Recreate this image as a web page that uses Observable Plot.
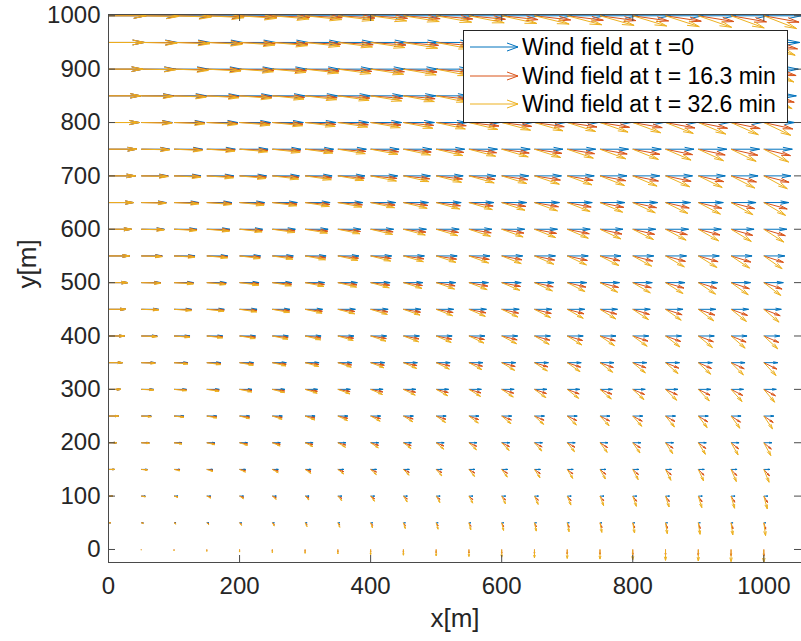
<!DOCTYPE html>
<html>
<head>
<meta charset="utf-8">
<script src="https://cdn.jsdelivr.net/npm/d3@7"></script>
<script src="https://cdn.jsdelivr.net/npm/@observablehq/plot@0.6"></script>
<style>
  body { margin: 0; background: #fff; }
  #chart { position: relative; width: 801px; height: 641px; font-family: "Liberation Sans", Arial, Helvetica, sans-serif; }
  #legend { position: absolute; left: 463px; top: 30px; width: 325px; height: 93px; box-sizing: border-box;
            border: 1px solid #262626; background: #fff; }
  #legend .row { position: absolute; left: 0; height: 26px; width: 100%; }
  #legend svg { position: absolute; left: 6px; top: 8px; }
  #legend span { position: absolute; left: 58px; top: 0; line-height: 26px; font-size: 23px; color: #000; white-space: nowrap; }
</style>
</head>
<body>
<div id="chart"></div>
<script>
// Grid of measurement points [m]
const xGrid = [0, 50, 100, 150, 200, 250, 300, 350, 400, 450, 500, 550, 600, 650, 700, 750, 800, 850, 900, 950, 1000];
const yGrid = [0, 50, 100, 150, 200, 250, 300, 350, 400, 450, 500, 550, 600, 650, 700, 750, 800, 850, 900, 950, 1000];

// Initial along-x wind speed for each height [m/s]
const uInitial = [0, 0.61, 1.22, 1.83, 2.44, 3.05, 3.8, 4.27, 4.88, 5.34, 5.95, 6.41, 7.02, 7.63, 8.24, 8.7, 9.46, 9.92, 10.53, 10.99, 11.5];

// Reduction of the along-x wind for each column at the later times
const uFactor16 = [1, 0.998, 0.995, 0.993, 0.99, 0.988, 0.985, 0.98, 0.978, 0.975, 0.97, 0.968, 0.965, 0.96, 0.958, 0.953, 0.95, 0.948, 0.943, 0.94, 0.935];
const uFactor33 = [1, 0.995, 0.99, 0.985, 0.98, 0.975, 0.97, 0.96, 0.955, 0.95, 0.94, 0.935, 0.93, 0.92, 0.915, 0.905, 0.9, 0.895, 0.885, 0.88, 0.87];

// Downward wind for each column at the later times [m/s]
const vDown16 = [0, 0.12, 0.24, 0.36, 0.48, 0.6, 0.72, 0.84, 0.96, 1.08, 1.2, 1.32, 1.44, 1.56, 1.68, 1.8, 1.92, 2.04, 2.16, 2.28, 2.4];
const vDown33 = [0, 0.25, 0.49, 0.72, 0.97, 1.2, 1.44, 1.68, 1.92, 2.15, 2.4, 2.63, 2.88, 3.11, 3.36, 3.6, 3.83, 4.08, 4.32, 4.55, 4.8];

const seriesNames = ["Wind field at t =0", "Wind field at t = 16.3 min", "Wind field at t = 32.6 min"];
const seriesColors = ["#0072BD", "#D95319", "#EDB120"];

const xTicks = [0, 200, 400, 600, 800, 1000];
const yTicks = [0, 100, 200, 300, 400, 500, 600, 700, 800, 900, 1000];

// Quiver drawing: metres of axis per m/s, head length and head width ratios
const quiverScale = 5;
const headLength = 0.33;
const headWidth = 0.25;

const seriesFactors = [null, uFactor16, uFactor33];
const seriesDown = [null, vDown16, vDown33];

function quiverTable(s) {
  const rows = [];
  yGrid.forEach((y, j) => {
    xGrid.forEach((x, i) => {
      const u = uInitial[j] * (s === 0 ? 1 : seriesFactors[s][i]);
      const v = s === 0 ? 0 : -seriesDown[s][i];
      const du = u * quiverScale, dv = v * quiverScale;
      if (du === 0 && dv === 0) return;
      const tx = x + du, ty = y + dv;
      rows.push({
        x, y, tx, ty,
        ax: tx - headLength * (du + headWidth * dv), ay: ty - headLength * (dv - headWidth * du),
        bx: tx - headLength * (du - headWidth * dv), by: ty - headLength * (dv + headWidth * du)
      });
    });
  });
  return rows;
}

const W = 801, H = 641;
const mL = 108, mR = 0, mT = 14, mB = 79;
const plotW = W - mL - mR, plotH = H - mT - mB;
const tickLen = 7;
const axisColor = "#4a4a4a";
const textColor = "#262626";

const arrowMarks = [];
[0, 1, 2].forEach(s => {
  const data = quiverTable(s);
  const style = {stroke: seriesColors[s], strokeWidth: 1, clip: true};
  arrowMarks.push(Plot.link(data, {x1: "x", y1: "y", x2: "tx", y2: "ty", ...style}));
  arrowMarks.push(Plot.link(data, {x1: "tx", y1: "ty", x2: "ax", y2: "ay", ...style}));
  arrowMarks.push(Plot.link(data, {x1: "tx", y1: "ty", x2: "bx", y2: "by", ...style}));
});

const chart = Plot.plot({
  width: W,
  height: H,
  marginLeft: mL,
  marginRight: mR,
  marginTop: mT,
  marginBottom: mB,
  style: {fontFamily: "'Liberation Sans', Arial, Helvetica, sans-serif", background: "#fff", color: textColor},
  x: {domain: [0, 1057.5], label: null},
  y: {domain: [-24.4, 1002.4], label: null},
  marks: [
    ...arrowMarks,
    // inward tick marks on all four sides
    Plot.tickX(xTicks, {x: d => d, insetTop: plotH - tickLen, stroke: axisColor}),
    Plot.tickX(xTicks, {x: d => d, insetBottom: plotH - tickLen, stroke: axisColor}),
    Plot.tickY(yTicks, {y: d => d, insetRight: plotW - tickLen, stroke: axisColor}),
    Plot.tickY(yTicks, {y: d => d, insetLeft: plotW - tickLen, stroke: axisColor}),
    Plot.frame({stroke: axisColor, strokeWidth: 1}),
    Plot.axisX(xTicks, {anchor: "bottom", tickSize: 0, tickPadding: 14, fontSize: 24, fill: textColor, tickFormat: "d", label: null}),
    Plot.axisY(yTicks, {anchor: "left", tickSize: 0, tickPadding: 8, fontSize: 24, fill: textColor, tickFormat: "d", label: null}),
    Plot.text(["x[m]"], {text: d => d, frameAnchor: "bottom", dy: 64, fontSize: 26, fill: textColor}),
    Plot.text(["y[m]"], {text: d => d, frameAnchor: "left", dx: -81, rotate: -90, fontSize: 26, fill: textColor})
  ]
});

const container = document.getElementById("chart");
container.appendChild(chart);

// Legend box inside the axes, upper right
const legend = document.createElement("div");
legend.id = "legend";
const rowTops = [3, 32, 60];
seriesNames.forEach((name, s) => {
  const row = document.createElement("div");
  row.className = "row";
  row.style.top = rowTops[s] + "px";
  const c = seriesColors[s];
  row.innerHTML =
    `<svg width="50" height="10" viewBox="0 0 50 10">` +
    `<line x1="0" y1="5" x2="48" y2="5" stroke="${c}" stroke-width="1"/>` +
    `<line x1="48" y1="5" x2="37" y2="1" stroke="${c}" stroke-width="1"/>` +
    `<line x1="48" y1="5" x2="37" y2="9" stroke="${c}" stroke-width="1"/>` +
    `</svg><span>${name}</span>`;
  legend.appendChild(row);
});
container.appendChild(legend);
</script>
</body>
</html>
